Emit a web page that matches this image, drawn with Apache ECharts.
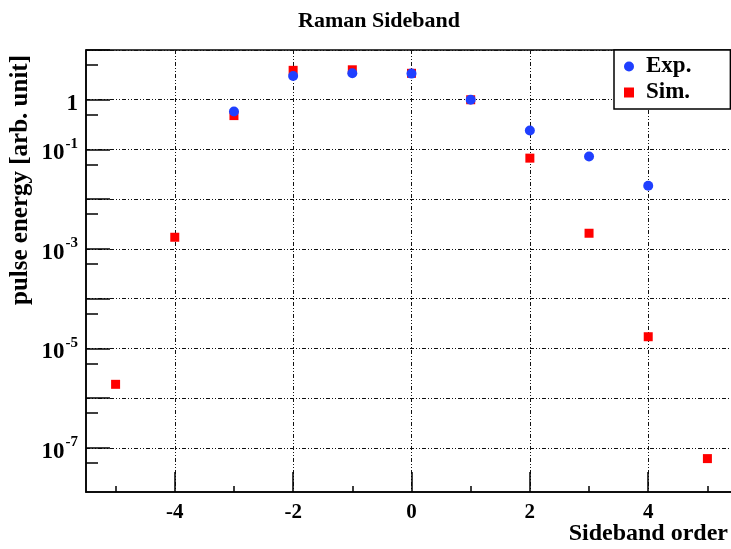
<!DOCTYPE html>
<html>
<head>
<meta charset="utf-8">
<script src="https://cdn.jsdelivr.net/npm/echarts@6/dist/echarts.min.js"></script>
<style>
html,body{margin:0;padding:0;background:#fff;}
#chart{width:731px;height:549px;}
</style>
</head>
<body>
<div id="chart"></div>
<script>
// ---- data ----
const expOrders = [-3, -2, -1, 0, 1, 2, 3, 4];
const expValues = [0.58, 3.0, 3.4, 3.35, 1.0, 0.24, 0.072, 0.0186];
const simOrders = [-5, -4, -3, -2, -1, 0, 1, 2, 3, 4, 5];
const simValues = [1.9e-6, 1.72e-3, 0.48, 3.9, 4.0, 3.4, 1.0, 0.067, 2.07e-3, 1.72e-5, 6.1e-8];
const xLabelValues = [-4, -2, 0, 2, 4];
const xMinorTicks = [-5, -3, -1, 1, 3, 5];
const yLabelValues = [1, 1e-1, 1e-3, 1e-5, 1e-7];
const yMajorTicks = [10, 1, 1e-1, 1e-2, 1e-3, 1e-4, 1e-5, 1e-6, 1e-7];
const yMinorTicks = [5, 0.5, 5e-2, 5e-3, 5e-4, 5e-5, 5e-6, 5e-7, 5e-8];
const xTitle = 'Sideband order';
const yTitle = 'pulse energy [arb. unit]';

const FONT = 'Liberation Serif';
const gridDash = [4, 2, 1, 2, 1, 2];

const chart = echarts.init(document.getElementById('chart'), null, {renderer: 'canvas'});

function yFmt(v) {
  if (Math.abs(v - 1) < 1e-9) return '{b|1}';
  const e = Math.round(Math.log10(v));
  return '{b|10}{s|' + e + '}';
}

const option = {
  backgroundColor: '#ffffff',
  animation: false,
  title: {
    text: 'Raman Sideband',
    left: 293, top: 5,
    textStyle: {fontFamily: FONT, fontWeight: 'bold', fontSize: 22, color: '#000'}
  },
  legend: {
    data: ['Exp.', 'Sim.'],
    orient: 'vertical',
    left: 614, top: 50,
    padding: [5, 39, 5, 10],
    itemGap: 3,
    itemWidth: 10, itemHeight: 10,
    backgroundColor: '#fff',
    borderColor: '#000', borderWidth: 1.5,
    textStyle: {fontFamily: FONT, fontWeight: 'bold', fontSize: 23, color: '#000', padding: [0, 0, 0, 7]}
  },
  graphic: [{
    type: 'text', right: 3, top: 522,
    style: {text: xTitle, fontFamily: FONT, fontWeight: 'bold', fontSize: 24, fill: '#000'}
  }],
  grid: {
    left: 86, top: 50, right: -6, bottom: 57,
    containLabel: false, outerBoundsMode: 'none',
    show: true, borderColor: '#000', borderWidth: 1.5, backgroundColor: 'transparent'
  },
  xAxis: [{
    type: 'value', min: -5.5, max: 5.5,
    axisLine: {show: true, onZero: false, lineStyle: {color: '#000', width: 1.5}},
    axisTick: {show: true, inside: true, length: 20, customValues: xLabelValues,
      lineStyle: {color: '#000', width: 1.5}},
    axisLabel: {show: true, customValues: xLabelValues, margin: 10,
      formatter: v => String(v),
      fontFamily: FONT, fontWeight: 'bold', fontSize: 21, color: '#000'},
    splitLine: {show: true, lineStyle: {color: '#111', width: 1, type: gridDash}}
  }, {
    type: 'value', min: -5.5, max: 5.5, position: 'bottom',
    axisLine: {show: false, onZero: false},
    axisTick: {show: true, inside: true, length: 6, customValues: xMinorTicks,
      lineStyle: {color: '#000', width: 1.5}},
    axisLabel: {show: false},
    splitLine: {show: false}
  }],
  yAxis: [{
    type: 'log', logBase: 10, min: 1.3e-8, max: 10, position: 'left',
    name: yTitle, nameLocation: 'end', nameRotate: 90, nameGap: -5,
    nameTextStyle: {fontFamily: FONT, fontWeight: 'bold', fontSize: 25, color: '#000',
      align: 'right', verticalAlign: 'bottom', padding: [0, 0, 53, 0]},
    axisLine: {show: true, onZero: false, lineStyle: {color: '#000', width: 1.5}},
    axisTick: {show: true, inside: true, length: 24, customValues: yMajorTicks,
      lineStyle: {color: '#000', width: 1.5}},
    axisLabel: {show: true, customValues: yLabelValues, margin: 8,
      formatter: yFmt,
      rich: {
        b: {fontFamily: FONT, fontWeight: 'bold', fontSize: 23, color: '#000', padding: [8, 0, 0, 0]},
        s: {fontFamily: FONT, fontWeight: 'bold', fontSize: 15, color: '#000', padding: [0, 0, 11, 1]}
      }},
    splitLine: {show: true, lineStyle: {color: '#111', width: 1, type: gridDash}}
  }, {
    type: 'log', logBase: 10, min: 1.3e-8, max: 10, position: 'left',
    axisLine: {show: false, onZero: false},
    axisTick: {show: true, inside: true, length: 12, customValues: yMinorTicks,
      lineStyle: {color: '#000', width: 1.5}},
    axisLabel: {show: false},
    splitLine: {show: false}
  }],
  series: [{
    name: 'Exp.', type: 'scatter', xAxisIndex: 0, yAxisIndex: 0, z: 4,
    symbol: 'circle', symbolSize: 10,
    itemStyle: {color: '#1f3fff', opacity: 1},
    data: expOrders.map((x, i) => [x, expValues[i]])
  }, {
    name: 'Sim.', type: 'scatter', xAxisIndex: 0, yAxisIndex: 0, z: 3,
    symbol: 'rect', symbolSize: 9,
    itemStyle: {color: '#ff0000', opacity: 1},
    data: simOrders.map((x, i) => [x, simValues[i]])
  }]
};
chart.setOption(option);
</script>
</body>
</html>
